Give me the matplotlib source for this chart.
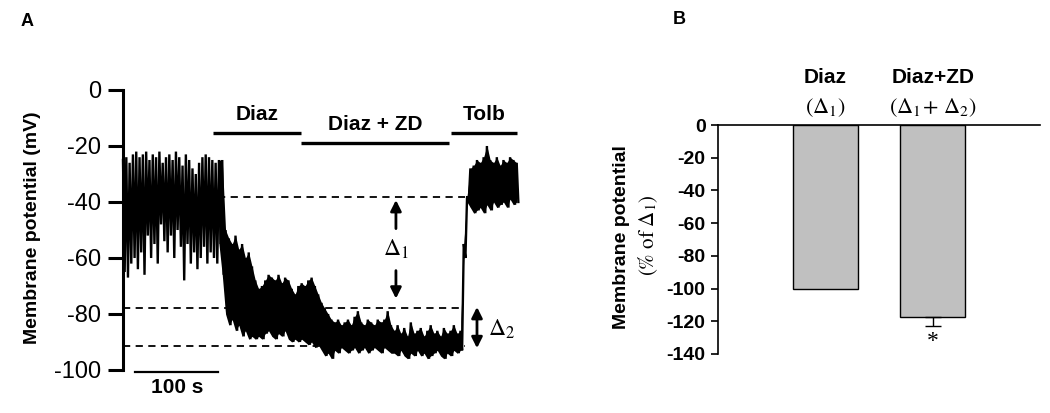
import numpy as np
import matplotlib
matplotlib.use("Agg")
import matplotlib.pyplot as plt

plt.rcParams['font.family'] = ['Liberation Sans', 'DejaVu Sans']
plt.rcParams['mathtext.fontset'] = 'stix'
plt.rcParams['axes.unicode_minus'] = False

# --- data ---
# panel A: membrane potential trace, upper / lower envelope read every 4 s (mV)
trace_step = 4
trace_hi = [-25, -24, -26, -23, -22, -24, -23, -22, -25, -23,
            -24, -22, -26, -24, -23, -25, -22, -24, -27, -23,
            -25, -28, -30, -26, -24, -23, -24, -25, -26, -25,
            -25, -50, -53, -55, -52, -57, -55, -60, -58, -63,
            -68, -71, -70, -68, -66, -67, -68, -66, -69, -67,
            -68, -71, -73, -70, -69, -70, -68, -67, -70, -73,
            -76, -78, -80, -82, -83, -82, -84, -83, -82, -84,
            -81, -79, -83, -84, -82, -83, -84, -82, -83, -82,
            -79, -84, -86, -84, -87, -85, -88, -83, -87, -86,
            -85, -88, -86, -84, -87, -86, -88, -85, -87, -86,
            -84, -87, -86, -55, -38, -28, -27, -25, -26, -24,
            -20, -25, -26, -24, -27, -25, -26, -24, -25, -26]
trace_lo = [-65, -67, -62, -60, -64, -58, -66, -52, -60, -55,
            -62, -48, -54, -58, -52, -60, -50, -56, -68, -55,
            -62, -58, -64, -60, -56, -62, -58, -60, -62, -55,
            -66, -80, -84, -82, -86, -84, -88, -86, -89, -88,
            -89, -88, -89, -87, -86, -88, -89, -87, -88, -86,
            -89, -90, -89, -90, -89, -90, -91, -90, -92, -91,
            -93, -95, -94, -96, -93, -94, -92, -93, -94, -93,
            -92, -94, -93, -92, -94, -93, -92, -93, -94, -92,
            -93, -94, -94, -95, -93, -95, -96, -94, -95, -93,
            -95, -94, -96, -95, -94, -93, -95, -96, -94, -95,
            -93, -94, -93, -60, -40, -42, -44, -43, -42, -44,
            -41, -43, -40, -42, -41, -40, -42, -39, -41, -40]

drugs = ['Diaz', 'Diaz + ZD', 'Tolb']
drug_start = [109, 215, 397]
drug_end = [215, 394, 476]
drug_level = [-15.4, -18.9, -15.4]

level_ctrl = -38.2     # dashed reference levels (mV)
level_diaz = -78.0
level_zd = -91.4

# panel B: bars (% of delta1)
bar_labels = ['Diaz', 'Diaz+ZD']
bar_sub = [r'$(\Delta_1)$', r'$(\Delta_1\!+\,\Delta_2)$']
bar_vals = [-100, -117.5]
bar_err = [0, 5.5]

fig = plt.figure(figsize=(10.5, 4.13), dpi=100)

# ---------------- panel A ----------------
axA = fig.add_axes([123 / 1050, 1 - 370 / 413, 397 / 1050, 280 / 413])
t = np.arange(len(trace_hi)) * trace_step
xs = np.column_stack([t, t + trace_step / 2]).ravel()
ys = np.column_stack([trace_hi, trace_lo]).ravel()
# solid core of the trace after drug onset (flicker segment stays open)
core = t >= 116
axA.fill_between(t[core], np.array(trace_hi)[core], np.array(trace_lo)[core],
                 color='black', lw=0)
axA.plot(xs, ys, color='black', lw=1.7, clip_on=False, solid_joinstyle='miter')

axA.set_xlim(0, 480)
axA.set_ylim(-100, 0)
for s in ['top', 'right', 'bottom']:
    axA.spines[s].set_visible(False)
axA.spines['left'].set_linewidth(2.2)
axA.set_xticks([])
axA.set_yticks(np.arange(-100, 1, 20))
axA.tick_params(axis='y', length=11, width=2.2, pad=5, labelsize=17)

dash = (0, (4, 3))
axA.plot([115, 413], [level_ctrl, level_ctrl], color='black', lw=1.3, ls=dash)
axA.plot([0, 411], [level_diaz, level_diaz], color='black', lw=1.3, ls=dash)
axA.plot([0, 413], [level_zd, level_zd], color='black', lw=1.3, ls=dash)

for name, a, b, lev in zip(drugs, drug_start, drug_end, drug_level):
    axA.plot([a, b], [lev, lev], color='black', lw=2.4, clip_on=False,
             solid_capstyle='butt')
    axA.text((a + b) / 2, lev + 3.2, name, ha='center', va='bottom',
             fontsize=15, fontweight='bold')

# scale bar
axA.plot([14.5, 115], [-100.7, -100.7], color='black', lw=1.6, clip_on=False)
axA.text(65, -103, '100 s', ha='center', va='top', fontsize=15, fontweight='bold')

# delta arrows
ap = dict(arrowstyle='-|>', lw=2, color='black', mutation_scale=16,
          shrinkA=0, shrinkB=0)
axA.annotate('', xy=(330, -39.3), xytext=(330, -49.5), arrowprops=ap)
axA.annotate('', xy=(330, -74.5), xytext=(330, -64.5), arrowprops=ap)
axA.text(330, -57, r'$\Delta_1$', ha='center', va='center', fontsize=17)
ap2 = dict(arrowstyle='<|-|>', lw=2, color='black', mutation_scale=16,
           shrinkA=0, shrinkB=0)
axA.annotate('', xy=(428, -92.2), xytext=(428, -77.5), arrowprops=ap2,
             annotation_clip=False)
axA.text(441, -85.5, r'$\Delta_2$', ha='left', va='center', fontsize=17)

fig.text(33 / 1050, 1 - 228 / 413, 'Membrane potential (mV)', rotation=90,
         ha='center', va='center', fontsize=14, fontweight='bold')
fig.text(27 / 1050, 1 - 22 / 413, 'A', ha='center', va='center',
         fontsize=13, fontweight='bold')

# ---------------- panel B ----------------
axB = fig.add_axes([718 / 1050, 1 - 354 / 413, 322 / 1050, 229 / 413])
xpos = [1, 2]
axB.bar(xpos, bar_vals, width=0.6, color='#c0c0c0', edgecolor='black', lw=1)
axB.errorbar(xpos[1], bar_vals[1], yerr=[[bar_err[1]], [0]], fmt='none',
             ecolor='black', elinewidth=1, capsize=5.5, capthick=1)
axB.text(xpos[1], bar_vals[1] - bar_err[1] - 3, '*', ha='center', va='top',
         fontsize=17, family='Liberation Serif')

axB.set_xlim(0, 3)
axB.set_ylim(-140, 0)
axB.spines['right'].set_visible(False)
axB.spines['bottom'].set_visible(False)
axB.spines['top'].set_linewidth(1.2)
axB.spines['left'].set_linewidth(1.2)
axB.set_xticks([])
axB.set_yticks(np.arange(-140, 1, 20))
axB.tick_params(axis='y', length=5, width=1.2, pad=4, labelsize=14)
for lab in axB.get_yticklabels():
    lab.set_fontweight('bold')

for x, name, sub in zip(xpos, bar_labels, bar_sub):
    axB.text(x, 23, name, ha='center', va='bottom', fontsize=15,
             fontweight='bold', clip_on=False)
    axB.text(x, 10.5, sub, ha='center', va='center', fontsize=16, clip_on=False)

fig.text(622 / 1050, 1 - 237 / 413, 'Membrane potential', rotation=90,
         ha='center', va='center', fontsize=14, fontweight='bold')
fig.text(648 / 1050, 1 - 235 / 413, r'$(\%\ \mathrm{of}\ \Delta_1)$', rotation=90,
         ha='center', va='center', fontsize=15)
fig.text(679 / 1050, 1 - 20 / 413, 'B', ha='center', va='center',
         fontsize=13, fontweight='bold')

fig.savefig('out.png', dpi=100)
